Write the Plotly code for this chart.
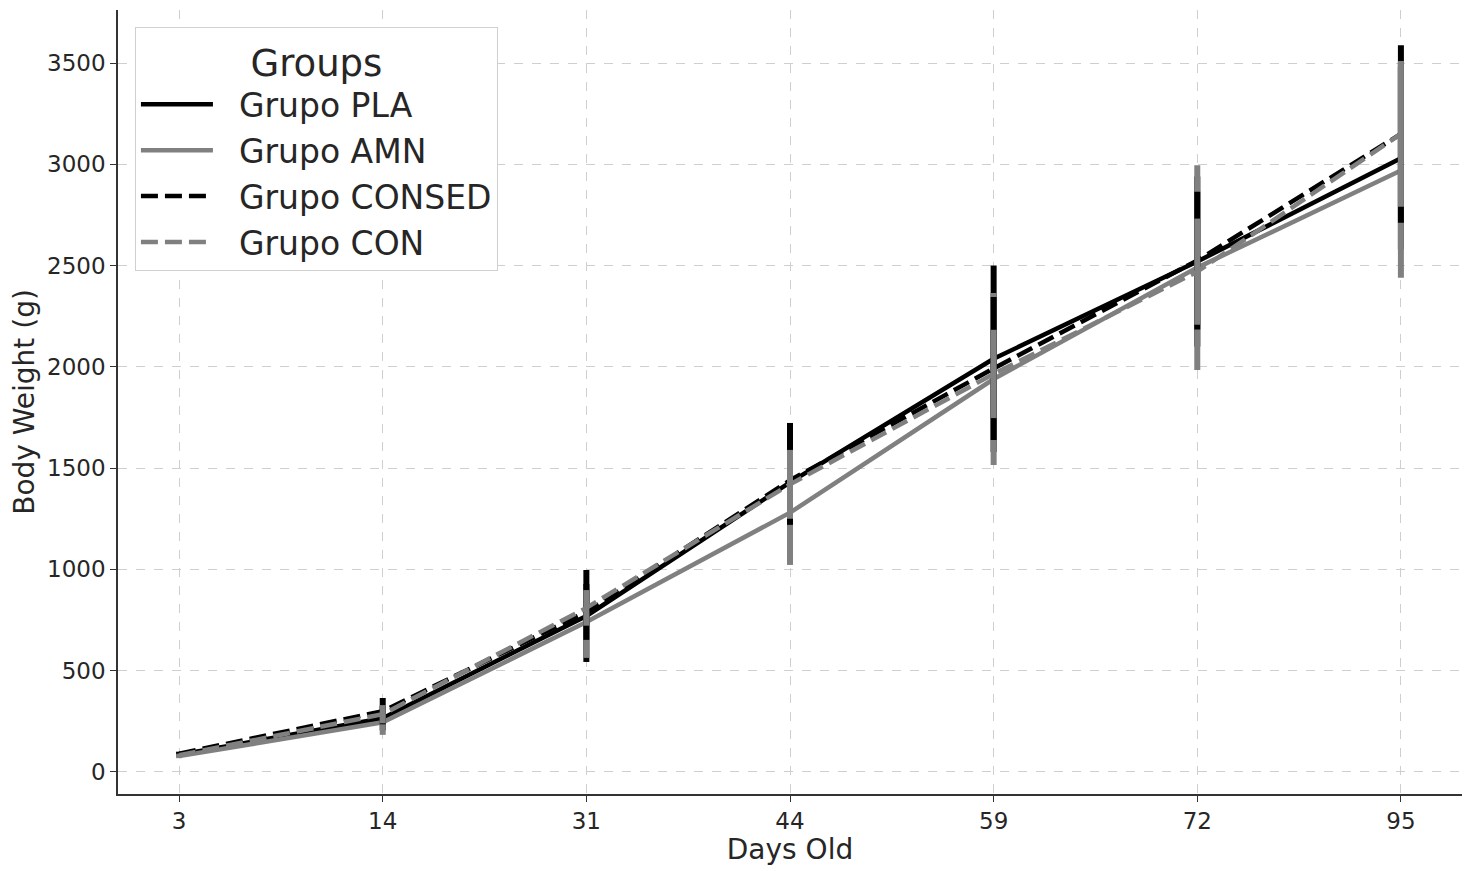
import plotly.graph_objects as go

days = ["3", "14", "31", "44", "59", "72", "95"]

pla_mean = [85, 265, 770, 1430, 2040, 2520, 3030]
pla_sd = [10, 60, 227, 293, 460, 420, 450]

amn_mean = [78, 245, 740, 1280, 1940, 2490, 2970]
amn_sd = [10, 62, 177, 258, 425, 506, 530]

consed_mean = [90, 300, 790, 1440, 1992, 2525, 3150]
consed_sd = [10, 65, 138, 220, 353, 340, 438]

con_mean = [82, 285, 810, 1420, 1965, 2470, 3150]
con_sd = [8, 45, 88, 170, 218, 262, 360]

series = [
    ("Grupo PLA", pla_mean, pla_sd, "#000000", "solid"),
    ("Grupo AMN", amn_mean, amn_sd, "#808080", "solid"),
    ("Grupo CONSED", consed_mean, consed_sd, "#000000", "17px,7px"),
    ("Grupo CON", con_mean, con_sd, "#808080", "17px,7px"),
]

fig = go.Figure()
for name, mean, sd, color, dash in series:
    fig.add_trace(go.Scatter(
        x=days, y=mean, name="\u00a0\u00a0" + name, mode="lines",
        line=dict(color=color, width=4.5, dash=dash),
        error_y=dict(type="data", array=sd, visible=True,
                     thickness=6, width=0, color=color),
    ))

font_family = "DejaVu Sans"
txt = "#262626"

fig.update_layout(
    width=1461, height=858,
    margin=dict(l=110, r=7, t=2, b=69),
    paper_bgcolor="white", plot_bgcolor="white",
    font=dict(family=font_family, color=txt, size=24),
    showlegend=True,
    legend=dict(
        x=0.0126, y=0.978, xanchor="left", yanchor="top",
        bgcolor="white", bordercolor="#d0d0d0", borderwidth=1,
        font=dict(size=33, family=font_family, color=txt),
        title=dict(text="Groups", side="top center",
                   font=dict(size=37, family=font_family, color=txt)),
        itemwidth=72,
        tracegroupgap=0,
    ),
    xaxis=dict(
        type="category", range=[-0.3, 6.3],
        showline=True, linecolor="#333333", linewidth=1.5,
        ticks="outside", ticklen=6, tickcolor="#333333", tickwidth=1.2,
        showgrid=True, gridcolor="#cfcfcf", griddash="dash", gridwidth=1,
        tickfont=dict(size=23), zeroline=False,
        title=dict(text="Days Old", font=dict(size=28), standoff=10),
    ),
    yaxis=dict(
        range=[-109, 3762],
        tickvals=[0, 500, 1000, 1500, 2000, 2500, 3000, 3500],
        showline=True, linecolor="#333333", linewidth=1.5,
        ticks="outside", ticklen=6, tickcolor="#333333", tickwidth=1.2,
        showgrid=True, gridcolor="#cfcfcf", griddash="dash", gridwidth=1,
        tickfont=dict(size=23), zeroline=False,
        title=dict(text="Body Weight (g)", font=dict(size=28), standoff=12),
    ),
)

fig.write_html("out.html")
